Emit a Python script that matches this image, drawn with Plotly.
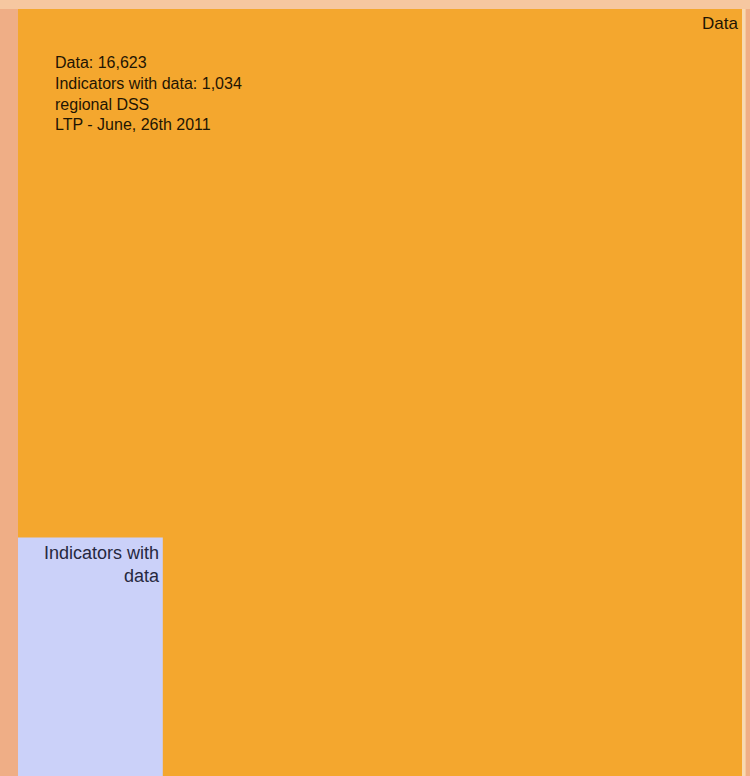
import math
import plotly.graph_objects as go

# Data
labels = ["Data", "Indicators with data"]
values = [16623, 1034]
info_lines = ["Data: 16,623", "Indicators with data: 1,034", "regional DSS", "LTP - June, 26th 2011"]
small_width_share = 0.2  # share of the big side used as width of the nested rectangle

side = math.sqrt(values[0])
w_small = side * small_width_share
h_small = values[1] / w_small

fig = go.Figure()
fig.add_trace(go.Scatter(
    x=[0, side, side, 0, 0], y=[0, 0, side, side, 0],
    fill="toself", fillcolor="#F4A72E", line=dict(width=0),
    mode="lines", hoverinfo="text", text=f"{labels[0]}: {values[0]:,}", showlegend=False))
fig.add_trace(go.Scatter(
    x=[0, w_small, w_small, 0, 0], y=[0, 0, h_small, h_small, 0],
    fill="toself", fillcolor="#CBD1F9", line=dict(width=0),
    mode="lines", hoverinfo="text", text=f"{labels[1]}: {values[1]:,}", showlegend=False))

font_family = "Liberation Sans, Arial, sans-serif"
fig.add_annotation(x=side, y=side, xref="x", yref="y", text=labels[0],
                   showarrow=False, xanchor="right", yanchor="top", xshift=-2, yshift=-3,
                   font=dict(family=font_family, size=17, color="#1f1503"))
fig.add_annotation(x=w_small, y=h_small, xref="x", yref="y", text="Indicators with<br>data",
                   showarrow=False, xanchor="right", yanchor="top", align="right", xshift=-1, yshift=-4,
                   font=dict(family=font_family, size=18, color="#262840"))
fig.add_annotation(x=0, y=side, xref="x", yref="y", text="<br>".join(info_lines),
                   showarrow=False, xanchor="left", yanchor="top", align="left", xshift=35, yshift=-43,
                   font=dict(family=font_family, size=16, color="#1f1503"))

# decorative background bands
fig.add_shape(type="rect", xref="paper", yref="paper", x0=-0.03, x1=1.02, y0=1.0, y1=1.02,
              fillcolor="#F6C7A0", line_width=0, layer="below")
fig.add_shape(type="rect", xref="paper", yref="paper", x0=1.0, x1=1.005, y0=0, y1=1.0,
              fillcolor="#F8D9B0", line_width=0, layer="above")

fig.update_xaxes(range=[0, side], visible=False, showgrid=False, zeroline=False)
fig.update_yaxes(range=[0, side], visible=False, showgrid=False, zeroline=False)
fig.update_layout(
    width=750, height=776,
    margin=dict(l=18, r=8, t=9, b=0),
    paper_bgcolor="#EFAE86", plot_bgcolor="#F4A72E",
)
fig.write_html("out.html", config={"displayModeBar": False},
               post_script="document.body.style.margin='0';document.body.style.padding='0';document.body.style.overflow='hidden';")
